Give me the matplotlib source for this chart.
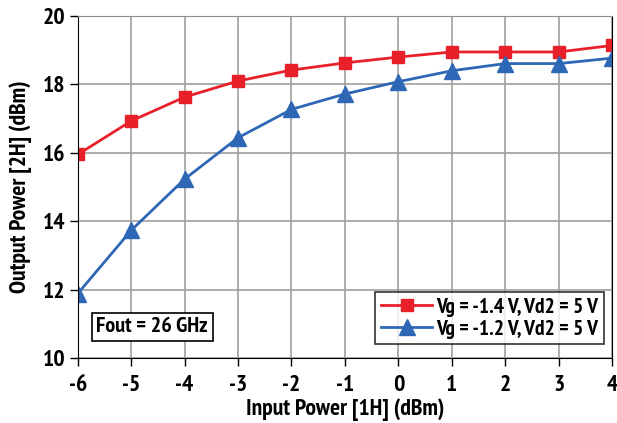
from matplotlib import pyplot as plt

plt.rcParams['font.family'] = ['PT Sans Narrow', 'DejaVu Sans']
plt.rcParams['font.weight'] = 'bold'
plt.rcParams['axes.unicode_minus'] = False

pin = [-6, -5, -4, -3, -2, -1, 0, 1, 2, 3, 4]
pout_14 = [15.95, 16.93, 17.63, 18.1, 18.42, 18.63, 18.8, 18.95, 18.95, 18.95, 19.14]
pout_12 = [11.88, 13.73, 15.23, 16.44, 17.27, 17.72, 18.08, 18.4, 18.61, 18.61, 18.77]

red = '#e8202a'
blue = '#2e67b5'

fig = plt.figure(figsize=(6.17, 4.23), dpi=100)
ax = fig.add_axes([0.126, 0.154, 0.866, 0.808])

ax.plot(pin, pout_14, color=red, lw=2, marker='s', ms=9, label='Vg = -1.4 V, Vd2 = 5 V')
ax.plot(pin, pout_12, color=blue, lw=2, marker='^', ms=11, label='Vg = -1.2 V, Vd2 = 5 V')

ax.set_xlim(-6, 4)
ax.set_ylim(10, 20)
ax.set_xticks(pin)
ax.set_yticks(range(10, 21, 2))
ax.grid(True, color='#a0a0a0', lw=1.2)
ax.set_axisbelow(True)
ax.spines['top'].set_color('#909090')
for s in ['left', 'bottom', 'right']:
    ax.spines[s].set_color('black')
ax.tick_params(labelsize=17, length=6, width=1, pad=3)
ax.tick_params(axis='x', pad=6)

ax.set_xlabel('Input Power [1H] (dBm)', fontsize=17, fontweight='bold', labelpad=2)
ax.set_ylabel('Output Power [2H] (dBm)', fontsize=17, fontweight='bold', labelpad=8)

leg = ax.legend(loc='lower right', bbox_to_anchor=(0.985, 0.04), fontsize=15.5, frameon=True,
                fancybox=False, edgecolor='black', handlelength=2.4, borderpad=0.25,
                labelspacing=0.15, handletextpad=0.2, borderaxespad=0)
leg.get_frame().set_linewidth(1.2)

ax.text(0.035, 0.075, 'Fout = 26 GHz', transform=ax.transAxes, fontsize=16, fontweight='bold',
        bbox=dict(boxstyle='square,pad=0.2', facecolor='white', edgecolor='black', lw=1.2))

fig.savefig('out.png', dpi=100)
